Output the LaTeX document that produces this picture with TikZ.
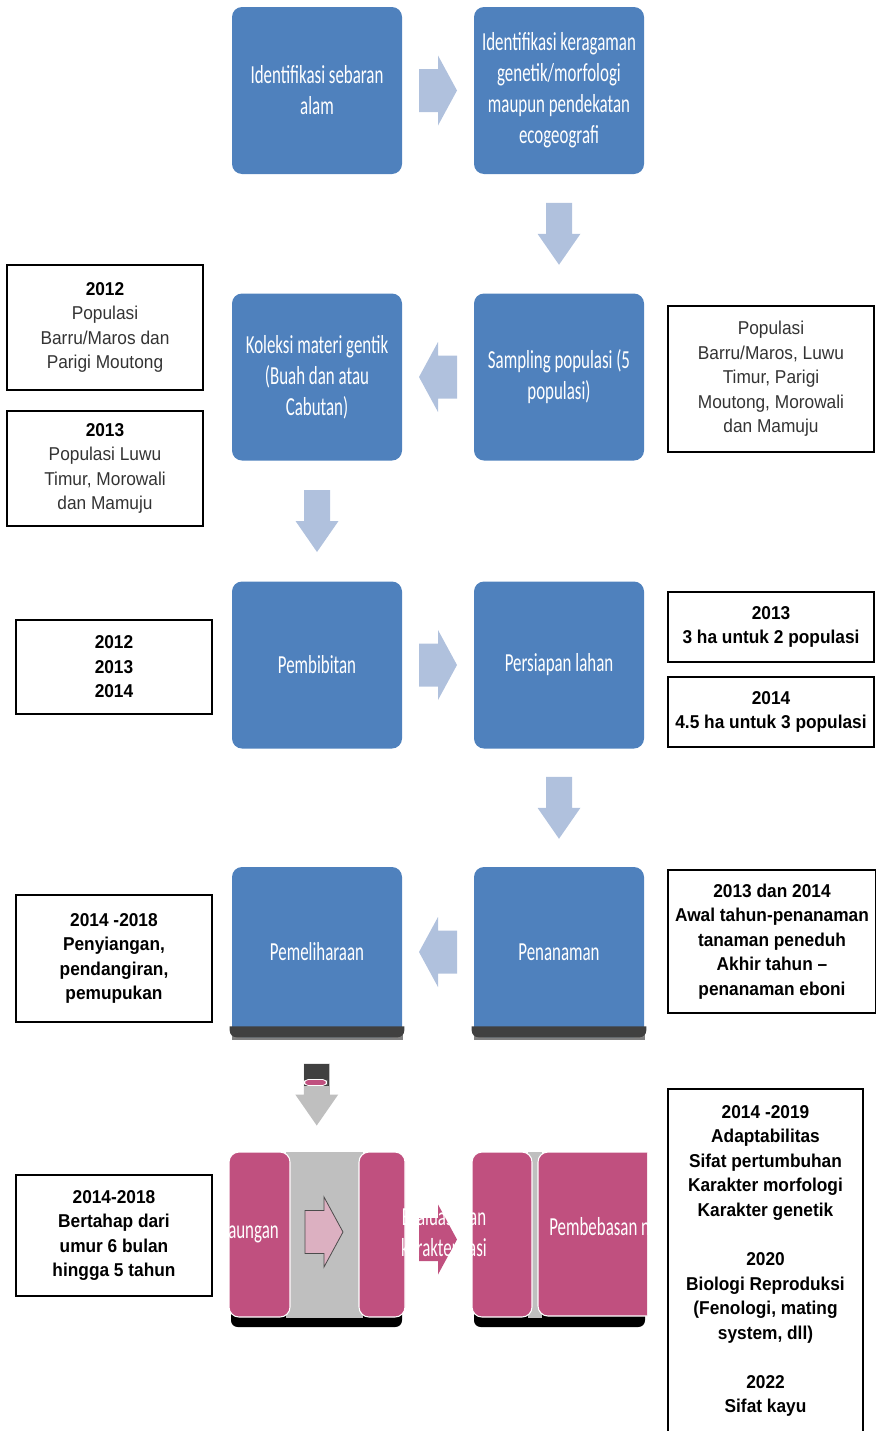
\documentclass[tikz,border=0pt]{standalone}
\usepackage{fontspec}
\setmainfont{Liberation Sans}
\newfontfamily\notefont[FakeStretch=0.93]{Liberation Sans}
\newfontfamily\stepfont[FakeStretch=0.65]{Carlito}
\usetikzlibrary{calc}
\definecolor{boxblue}{HTML}{4F81BD}
\definecolor{arrowblue}{HTML}{B0C1DD}
\definecolor{boxpink}{HTML}{C0507F}
\definecolor{arrowpink}{HTML}{DCB0C1}
\definecolor{bargray}{HTML}{404040}
\definecolor{midgray}{HTML}{BFBFBF}
\begin{document}
\begin{tikzpicture}[x=0.75pt,y=-0.75pt,
        stepbox/.style={rectangle,rounded corners=7.5pt,fill=boxblue,text=white,
            minimum width=127.5pt,minimum height=125.25pt,inner sep=0pt,align=center,
            font=\stepfont\fontsize{19.5}{23.25}\selectfont},
        notebox/.style={rectangle,draw=black,line width=1.3pt,inner sep=0pt,align=center,
            text=black!80,font=\notefont\fontsize{13.95}{18.4}\selectfont},
        boldnote/.style={notebox,text=black,font=\notefont\bfseries\fontsize{13.95}{18.4}\selectfont},
        pics/harrow/.style={code={\path[#1] (-19,-21.5) -- (0,-21.5) -- (0,-35) -- (19,0)
            -- (0,35) -- (0,21.5) -- (-19,21.5) -- cycle;}},
        pics/harrow/.default={fill=arrowblue},
        pics/varrow/.style={code={\path[#1] (-31,-13) -- (0,-13) -- (0,-21.5) -- (31,0)
            -- (0,21.5) -- (0,13) -- (-31,13) -- cycle;}},
        pics/varrow/.default={fill=arrowblue}]
    \useasboundingbox (0,0) rectangle (875,1431);

    % langkah utama
    \node[stepbox] (sebaran) at (317,90.5) {Identifikasi sebaran\\alam};
    \node[stepbox] (keragaman) at (559,90.5) {Identifikasi keragaman\\genetik/morfologi\\maupun pendekatan\\ecogeografi};
    \node[stepbox] (koleksi) at (317,377) {Koleksi materi gentik\\(Buah dan atau\\Cabutan)};
    \node[stepbox] (sampling) at (559,377) {Sampling populasi (5\\populasi)};
    \node[stepbox] (bibit) at (317,665) {Pembibitan};
    \node[stepbox] (lahan) at (559,665) {Persiapan lahan};

    \fill[black!50] (232,1030) rectangle (403,1040);
    \fill[black!50] (474,1030) rectangle (645,1040);
    \node[stepbox,minimum height=127.5pt] (pelihara) at (317,952) {Pemeliharaan};
    \node[stepbox,minimum height=127.5pt] (tanam) at (559,952) {Penanaman};
    \foreach \n in {pelihara,tanam}
        \fill[bargray] ($(\n.south west)+(-2,-11)$) -- ($(\n.south east)+(2,-11)$)
            [rounded corners=5pt] -- ($(\n.south east)+(2,0)$) -- ($(\n.south west)+(-2,0)$)
            [sharp corners] -- cycle;

    % baris bawah
    \node[minimum width=131.25pt,minimum height=123.75pt] (uji) at (316.5,1234.5) {};
    \node[minimum width=131.25pt,minimum height=123.75pt] (bebas) at (559.5,1234.5) {};
    \fill[black,rounded corners=5pt] (231,1300) rectangle (402,1327);
    \fill[black,rounded corners=5pt] (474,1300) rectangle (645,1327);
    \fill[midgray] (286,1152) rectangle (363,1318);
    \fill[midgray] (528,1152) rectangle (542,1318);
    \path[fill=boxpink,draw=white,line width=0.8pt,rounded corners=7.5pt] (229,1152) rectangle (290,1317);
    \path[fill=boxpink,draw=white,line width=0.8pt,rounded corners=7.5pt] (359,1152) rectangle (405,1317);
    \node[text=white,inner sep=0pt,anchor=east,font=\stepfont\fontsize{19.5}{23.25}\selectfont] (naungan) at (279,1232) {Naungan};
    \pic at (324,1232) {harrow={fill=arrowpink,draw=black!70,line width=0.6pt}};
    \begin{scope}
        \clip (460,1140) rectangle (647,1340);
        \path[fill=boxpink,draw=white,line width=0.8pt,rounded corners=7.5pt] (472,1152) rectangle (532,1317);
        \path[fill=boxpink,draw=white,line width=0.8pt,rounded corners=7.5pt] (538,1152) rectangle (690,1316);
        \node[text=white,inner sep=0pt,anchor=west,font=\stepfont\fontsize{19.5}{23.25}\selectfont] (pembebasan) at (549,1229) {Pembebasan naungan};
    \end{scope}
    \pic at ($(uji.east)!0.5!(bebas.west)+(0,5)$) {harrow={fill=boxpink}};
    \node[text=white,inner sep=0pt,align=center,font=\stepfont\fontsize{19.5}{23.25}\selectfont] (evaluasi) at (444,1232) {Evaluasi dan\\karakterisasi};

    % panah
    \pic at ($(sebaran.east)!0.5!(keragaman.west)$) {harrow};
    \pic[rotate=-90] at ($(keragaman.south)!0.5!(sampling.north)$) {varrow};
    \pic[rotate=180] at ($(sampling.west)!0.5!(koleksi.east)$) {harrow};
    \pic[rotate=-90] at ($(koleksi.south)!0.5!(bibit.north)$) {varrow};
    \pic at ($(bibit.east)!0.5!(lahan.west)$) {harrow};
    \pic[rotate=-90] at ($(lahan.south)!0.5!(tanam.north)$) {varrow};
    \pic[rotate=180] at ($(tanam.west)!0.5!(pelihara.east)$) {harrow};
    \coordinate (turun) at ($(pelihara.south)!0.5!(uji.north)$);
    \pic[rotate=-90] at (turun) {varrow={fill=midgray}};
    \fill[bargray] ($(turun)+(-12.5,-31)$) rectangle ($(turun)+(12.5,-9)$);
    \path[fill=boxpink,draw=white,line width=0.6pt,rounded corners=3pt] ($(turun)+(-12.5,-15)$) rectangle ($(turun)+(10,-9)$);

    % keterangan kiri
    \node[notebox,minimum width=147pt,minimum height=93.75pt] (thn12) at (105,327.5) {\textbf{\color{black}2012}\\Populasi\\Barru/Maros dan\\Parigi Moutong};
    \node[notebox,minimum width=147pt,minimum height=86.25pt] (thn13) at (105,468.5) {\textbf{\color{black}2013}\\Populasi Luwu\\Timur, Morowali\\dan Mamuju};
    \node[boldnote,minimum width=147pt,minimum height=70.5pt] (bibitthn) at (114,667) {2012\\2013\\2014};
    \node[boldnote,minimum width=147pt,minimum height=95.25pt] (rawat) at (114,958.5) {2014 -2018\\Penyiangan,\\pendangiran,\\pemupukan};
    \node[boldnote,minimum width=147pt,minimum height=90.75pt] (bertahap) at (114,1235.5) {2014-2018\\Bertahap dari\\umur 6 bulan\\hingga 5 tahun};

    % keterangan kanan
    \node[notebox,minimum width=154.5pt,minimum height=109.5pt] (populasi) at (771,379) {Populasi\\Barru/Maros, Luwu\\Timur, Parigi\\Moutong, Morowali\\dan Mamuju};
    \node[boldnote,minimum width=154.5pt,minimum height=52.5pt] (lahan13) at (771,627) {2013\\3 ha untuk 2 populasi};
    \node[boldnote,minimum width=154.5pt,minimum height=52.5pt] (lahan14) at (771,712) {2014\\4.5 ha untuk 3 populasi};
    \node[boldnote,minimum width=156pt,minimum height=107.25pt] (tanamthn) at (772,941.5) {2013 dan 2014\\Awal tahun-penanaman\\tanaman peneduh\\Akhir tahun –\\penanaman eboni};
    \node[boldnote,minimum width=146.25pt,minimum height=258pt] (amatan) at (765.5,1261) {2014 -2019\\Adaptabilitas\\Sifat pertumbuhan\\Karakter morfologi\\Karakter genetik\\[18.4pt]2020\\Biologi Reproduksi\\(Fenologi, mating\\system, dll)\\[18.4pt]2022\\Sifat kayu};
\end{tikzpicture}
\end{document}
